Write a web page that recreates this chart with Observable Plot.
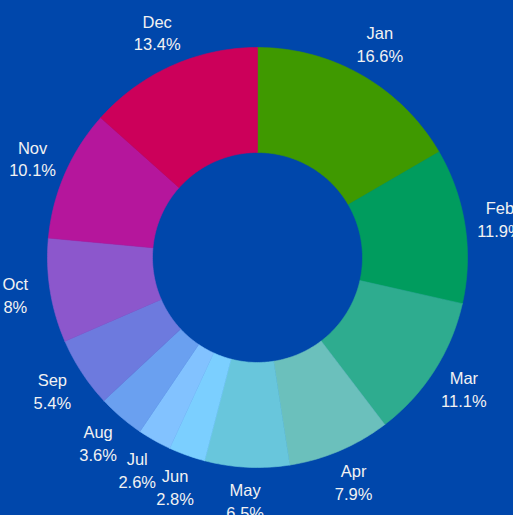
<!DOCTYPE html>
<html>
<head>
<meta charset="utf-8">
<script src="https://cdn.jsdelivr.net/npm/d3@7"></script>
<script src="https://cdn.jsdelivr.net/npm/@observablehq/plot@0.6"></script>
<style>
  html, body { margin: 0; padding: 0; background: #0047ab; }
  #chart svg { display: block; }
</style>
</head>
<body>
<div id="chart"></div>
<script>
const months = ["Jan","Feb","Mar","Apr","May","Jun","Jul","Aug","Sep","Oct","Nov","Dec"];
const shares = [16.6, 11.9, 11.1, 7.9, 6.5, 2.8, 2.6, 3.6, 5.4, 8, 10.1, 13.4];
const labels = ["16.6%","11.9%","11.1%","7.9%","6.5%","2.8%","2.6%","3.6%","5.4%","8%","10.1%","13.4%"];
const colors = ["#3f9900","#009c5e","#2eac8f","#6bc0bc","#68c6dc","#7bcfff","#82c2ff","#6aa0f0","#6d7ade","#8c57cc","#b5169c","#cc005a"];

const inner = 0.5, outer = 1.0, labelR = 1.168;
const pie = d3.pie().sort(null).value(d => d)(shares);

function pt(r, a) { return [r * Math.sin(a), r * Math.cos(a)]; }

// Polygon outline of each slice, in data units, derived from the pie layout
const slicePoints = pie.flatMap((p, i) => {
  const n = Math.max(4, Math.ceil((p.endAngle - p.startAngle) / (Math.PI / 180)));
  const ring = [];
  for (let k = 0; k <= n; k++) ring.push(pt(outer, p.startAngle + (p.endAngle - p.startAngle) * k / n));
  for (let k = n; k >= 0; k--) ring.push(pt(inner, p.startAngle + (p.endAngle - p.startAngle) * k / n));
  ring.push(ring[0]);
  return ring.map(([x, y]) => ({x, y, month: months[i]}));
});

const labelData = pie.map((p, i) => {
  const a = (p.startAngle + p.endAngle) / 2;
  const [x, y] = pt(labelR, a);
  return {x, y, text: months[i] + "\n" + labels[i]};
});

const chart = Plot.plot({
  width: 513,
  height: 515,
  marginLeft: 47,
  marginRight: 46,
  marginTop: 47,
  marginBottom: 48,
  style: {background: "#0047ab", overflow: "visible"},
  x: {domain: [-1, 1], axis: null},
  y: {domain: [-1, 1], axis: null},
  color: {domain: months, range: colors},
  marks: [
    Plot.line(slicePoints, {x: "x", y: "y", z: "month", fill: "month", stroke: "month", strokeWidth: 0.6, curve: "linear"}),
    Plot.text(labelData, {x: "x", y: "y", text: "text", dy: -2, fill: "#f2f2f2", fontSize: 16.5, lineHeight: 1.38, fontFamily: "Liberation Sans, Arial, sans-serif"})
  ]
});
document.getElementById("chart").appendChild(chart);
</script>
</body>
</html>
